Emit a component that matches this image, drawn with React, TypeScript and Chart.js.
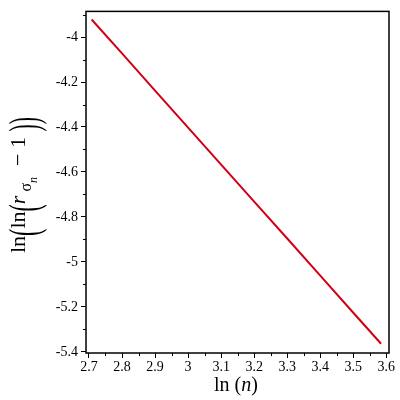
import React, { useEffect, useRef } from "react";
import { Chart, registerables } from "chart.js";

Chart.register(...registerables);

const xValues = [2.708, 2.8, 2.9, 3.0, 3.1, 3.2, 3.3, 3.4, 3.5, 3.584];
const yValues = [-3.922, -4.073, -4.238, -4.403, -4.567, -4.732, -4.896, -5.061, -5.226, -5.364];
const xTicks = [2.7, 2.8, 2.9, 3, 3.1, 3.2, 3.3, 3.4, 3.5, 3.6];
const xMinorTicks = [2.75, 2.85, 2.95, 3.05, 3.15, 3.25, 3.35, 3.45, 3.55];
const yTicks = [-4, -4.2, -4.4, -4.6, -4.8, -5, -5.2, -5.4];
const yMinorTicks = [-3.9, -4.1, -4.3, -4.5, -4.7, -4.9, -5.1, -5.3];

const SERIF = '"Liberation Serif", "Times New Roman", serif';

type Seg = { t: string; size: number; italic?: boolean; dy?: number; sy?: number };

function drawSegs(ctx: CanvasRenderingContext2D, segs: Seg[], cx: number, cy: number, rot: number) {
  ctx.save();
  ctx.translate(cx, cy);
  ctx.rotate(rot);
  ctx.fillStyle = "#000";
  ctx.textBaseline = "alphabetic";
  ctx.textAlign = "left";
  let total = 0;
  const widths = segs.map((s) => {
    ctx.font = `${s.italic ? "italic " : ""}${s.size}px ${SERIF}`;
    const w = ctx.measureText(s.t).width;
    total += w;
    return w;
  });
  let x = -total / 2;
  segs.forEach((s, i) => {
    ctx.font = `${s.italic ? "italic " : ""}${s.size}px ${SERIF}`;
    ctx.save();
    ctx.translate(x, s.dy || 0);
    ctx.scale(1, s.sy || 1);
    ctx.fillText(s.t, 0, 0);
    ctx.restore();
    x += widths[i];
  });
  ctx.restore();
}

const decorPlugin = {
  id: "decor",
  afterDraw(chart: any) {
    const ctx: CanvasRenderingContext2D = chart.ctx;
    const { left, right, top, bottom } = chart.chartArea;
    const xs = chart.scales.x;
    const ys = chart.scales.y;
    ctx.save();
    ctx.strokeStyle = "#000";
    ctx.lineWidth = 1.5;
    ctx.strokeRect(left, top, right - left, bottom - top);
    ctx.lineWidth = 1;
    ctx.beginPath();
    xMinorTicks.forEach((v) => {
      const px = Math.round(xs.getPixelForValue(v)) + 0.5;
      ctx.moveTo(px, bottom);
      ctx.lineTo(px, bottom + 3);
    });
    yMinorTicks.forEach((v) => {
      const py = Math.round(ys.getPixelForValue(v)) + 0.5;
      ctx.moveTo(left, py);
      ctx.lineTo(left - 3, py);
    });
    ctx.stroke();
    ctx.restore();

    // x title: ln(n)
    drawSegs(
      ctx,
      [
        { t: "ln ", size: 20 },
        { t: "(", size: 20 },
        { t: "n", size: 20, italic: true },
        { t: ")", size: 20 },
      ],
      236,
      391,
      0
    );
    // y title: ln(ln(r_{σ_n} − 1))
    const P = { size: 22, sy: 1.9, dy: 13 };
    drawSegs(
      ctx,
      [
        { t: "ln", size: 22 },
        { t: "(", ...P },
        { t: "ln", size: 22 },
        { t: "(", ...P },
        { t: "r", size: 22, italic: true },
        { t: " σ", size: 16, dy: 6 },
        { t: "n", size: 12, italic: true, dy: 12 },
        { t: "  − 1", size: 22 },
        { t: " )", ...P },
        { t: ")", ...P },
      ],
      25,
      185,
      -Math.PI / 2
    );
  },
};

export default function App() {
  const ref = useRef<HTMLCanvasElement | null>(null);
  useEffect(() => {
    document.body.style.margin = "0";
    const canvas = ref.current!;
    const chart = new Chart(canvas, {
      type: "line",
      data: {
        datasets: [
          {
            data: xValues.map((x, i) => ({ x, y: yValues[i] })),
            borderColor: "rgb(210,0,20)",
            borderWidth: 2,
            pointRadius: 0,
            fill: false,
            tension: 0,
          },
        ],
      },
      options: {
        responsive: false,
        animation: false,
        layout: { padding: { top: 6, right: 11, left: 0, bottom: 0 } },
        plugins: { legend: { display: false }, tooltip: { enabled: false } },
        scales: {
          x: {
            type: "linear",
            min: 2.691,
            max: 3.608,
            afterBuildTicks: (s: any) => {
              s.ticks = xTicks.map((v) => ({ value: v }));
            },
            afterFit: (s: any) => {
              s.height = 47;
            },
            ticks: {
              autoSkip: false,
              maxRotation: 0,
              padding: 1,
              color: "#000",
              font: { family: SERIF, size: 14 },
              callback: (v: any) => String(v),
            },
            grid: { drawOnChartArea: false, drawTicks: true, tickLength: 5, color: "#000" },
            border: { display: false },
          },
          y: {
            type: "linear",
            min: -5.405,
            max: -3.886,
            afterBuildTicks: (s: any) => {
              s.ticks = yTicks.map((v) => ({ value: v }));
            },
            afterFit: (s: any) => {
              s.width = 86;
            },
            ticks: {
              autoSkip: false,
              padding: 3,
              color: "#000",
              font: { family: SERIF, size: 14 },
              callback: (v: any) => String(v),
            },
            grid: { drawOnChartArea: false, drawTicks: true, tickLength: 5, color: "#000" },
            border: { display: false },
          },
        },
      },
      plugins: [decorPlugin],
    } as any);
    return () => chart.destroy();
  }, []);
  return <canvas ref={ref} width={400} height={400} style={{ display: "block" }} />;
}
